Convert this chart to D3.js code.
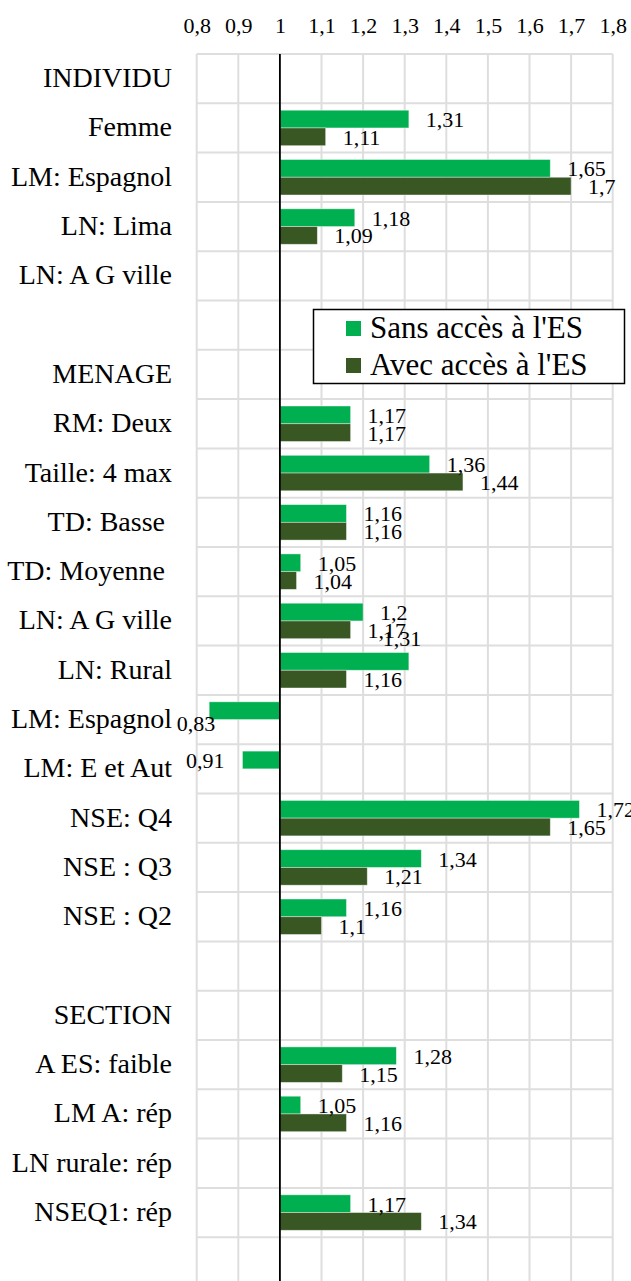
<!DOCTYPE html>
<html>
<head>
    <meta charset="utf-8">
    <title>Odds ratios</title>
    <script src="https://cdn.jsdelivr.net/npm/d3@7"></script>
    <style>
        body { margin: 0; background: #fff; }
        text { font-family: "Liberation Serif", "Times New Roman", serif; fill: #000; white-space: pre; }
    </style>
</head>
<body>
    <svg width="631" height="1281" id="mainsvg" style="display: block;"></svg>
    <script>
        // data
        const categories = ['INDIVIDU', 'Femme', 'LM: Espagnol', 'LN: Lima', 'LN: A G ville', '',
            'MENAGE', 'RM: Deux', 'Taille: 4 max', 'TD: Basse ', 'TD: Moyenne ', 'LN: A G ville', 'LN: Rural',
            'LM: Espagnol', 'LM: E et Aut', 'NSE: Q4', 'NSE : Q3', 'NSE : Q2', '',
            'SECTION', 'A ES: faible', 'LM A: rép', 'LN rurale: rép', 'NSEQ1: rép', ''];
        const sansAcces = [null, 1.31, 1.65, 1.18, null, null,
            null, 1.17, 1.36, 1.16, 1.05, 1.2, 1.31,
            0.83, 0.91, 1.72, 1.34, 1.16, null,
            null, 1.28, 1.05, null, 1.17, null];
        const avecAcces = [null, 1.11, 1.7, 1.09, null, null,
            null, 1.17, 1.44, 1.16, 1.04, 1.17, 1.16,
            null, null, 1.65, 1.21, 1.1, null,
            null, 1.15, 1.16, null, 1.34, null];
        const seriesNames = ["Sans accès à l'ES", "Avec accès à l'ES"];
        const xTicks = [0.8, 0.9, 1, 1.1, 1.2, 1.3, 1.4, 1.5, 1.6, 1.7, 1.8];

        const svg = d3.select('svg');
        const colors = ['#00b050', '#385723'];
        const fmt = v => String(v).replace('.', ',');

        const plotTop = 54, rowH = 49.3;
        const x = d3.scaleLinear().domain([0.8, 1.8]).range([196.7, 612.7]);
        const y = d3.scaleBand().domain(d3.range(categories.length))
            .range([plotTop, plotTop + rowH * categories.length]);
        const sub = d3.scaleBand().domain([0, 1]).range([0, y.bandwidth()]).paddingOuter(0.39);
        const plotBottom = y.range()[1];

        // grid
        svg.append('g').selectAll('line').data(xTicks).join('line')
            .attr('x1', d => x(d)).attr('x2', d => x(d))
            .attr('y1', plotTop).attr('y2', plotBottom)
            .attr('stroke', '#dedede').attr('stroke-width', 2);
        svg.append('g').selectAll('line').data(d3.range(categories.length + 1)).join('line')
            .attr('x1', x(0.8)).attr('x2', x(1.8))
            .attr('y1', d => plotTop + d * rowH).attr('y2', d => plotTop + d * rowH)
            .attr('stroke', '#dedede').attr('stroke-width', 2);

        // tick labels
        const axis = svg.append('g').attr('transform', `translate(0,${plotTop})`)
            .call(d3.axisTop(x).tickValues(xTicks).tickSize(0).tickPadding(21).tickFormat(fmt));
        axis.select('.domain').remove();
        axis.selectAll('text').style('font-family', '"Liberation Serif", serif').style('font-size', '22px');

        // category labels
        svg.append('g').selectAll('text').data(categories).join('text')
            .attr('x', 172).attr('y', (d, i) => y(i) + rowH / 2 + 8.5)
            .attr('text-anchor', 'end').style('font-size', '28px')
            .text(d => d);

        // bars
        const bars = [];
        [sansAcces, avecAcces].forEach((arr, s) => {
            arr.forEach((v, i) => { if (v !== null) bars.push({ s, i, v }); });
        });
        svg.append('g').selectAll('rect').data(bars).join('rect')
            .attr('x', d => Math.min(x(1), x(d.v)))
            .attr('width', d => Math.abs(x(d.v) - x(1)))
            .attr('y', d => y(d.i) + sub(d.s))
            .attr('height', sub.bandwidth())
            .attr('fill', d => colors[d.s])
            .attr('stroke', '#fff').attr('stroke-opacity', 0.5).attr('stroke-width', 0.8);

        // axis line at 1
        svg.append('line').attr('x1', x(1)).attr('x2', x(1))
            .attr('y1', plotTop).attr('y2', plotBottom)
            .attr('stroke', '#000').attr('stroke-width', 1.8);

        // value labels (two were moved by hand in the original)
        const nudge = { '0-12': [-43, -23], '0-13': [24, 12] };
        svg.append('g').selectAll('text').data(bars).join('text')
            .attr('x', d => {
                const n = nudge[d.s + '-' + d.i] || [0, 0];
                return (d.v >= 1 ? x(d.v) + 17 : x(d.v) - 18) + n[0];
            })
            .attr('y', d => {
                const n = nudge[d.s + '-' + d.i] || [0, 0];
                return y(d.i) + sub(d.s) + sub.bandwidth() / 2 + 8 + n[1];
            })
            .attr('text-anchor', d => d.v >= 1 ? 'start' : 'end')
            .style('font-size', '22px')
            .text(d => fmt(d.v));

        // legend
        const legend = svg.append('g');
        legend.append('rect').attr('x', 313.5).attr('y', 309.5).attr('width', 311).attr('height', 74)
            .attr('fill', '#fff').attr('stroke', '#000').attr('stroke-width', 1.5);
        const li = legend.selectAll('g').data(seriesNames).join('g')
            .attr('transform', (d, i) => `translate(0,${i * 37})`);
        li.append('rect').attr('x', 346).attr('y', 321).attr('width', 15).attr('height', 15)
            .attr('fill', (d, i) => colors[i]);
        li.append('text').attr('x', 370).attr('y', 338).style('font-size', '31px').text(d => d);
    </script>
</body>
</html>
